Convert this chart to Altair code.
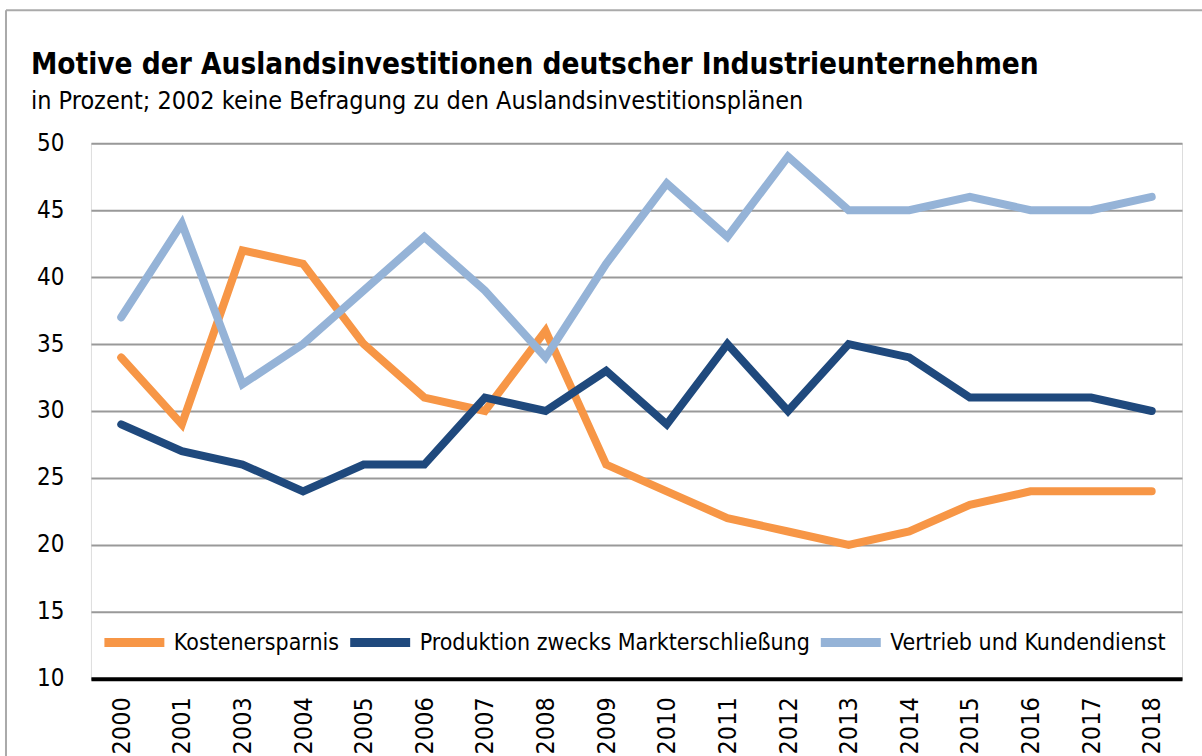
import altair as alt
import pandas as pd

years = ["2000", "2001", "2003", "2004", "2005", "2006", "2007", "2008", "2009",
         "2010", "2011", "2012", "2013", "2014", "2015", "2016", "2017", "2018"]
series_names = ["Kostenersparnis", "Produktion zwecks Markterschließung", "Vertrieb und Kundendienst"]
kosten = [34, 29, 42, 41, 35, 31, 30, 36, 26, 24, 22, 21, 20, 21, 23, 24, 24, 24]
produktion = [29, 27, 26, 24, 26, 26, 31, 30, 33, 29, 35, 30, 35, 34, 31, 31, 31, 30]
vertrieb = [37, 44, 32, 35, 39, 43, 39, 34, 41, 47, 43, 49, 45, 45, 46, 45, 45, 46]
colors = ["#F79646", "#1F497D", "#95B3D7"]
y_ticks = [10, 15, 20, 25, 30, 35, 40, 45, 50]

rows = []
for name, vals in zip(series_names, [kosten, produktion, vertrieb]):
    for y, v in zip(years, vals):
        rows.append({"Jahr": y, "Wert": v, "Serie": name})
df = pd.DataFrame(rows)

FONT = "DejaVu Sans Condensed, Liberation Sans, sans-serif"
W, H = 1092, 536

one = pd.DataFrame({"a": [0]})
frame_top = alt.Chart(one).mark_rule(stroke="#AAAAAA", strokeWidth=2, clip=False).encode(
    x=alt.value(-85), x2=alt.value(1300), y=alt.value(-133)
)
frame_left = alt.Chart(one).mark_rule(stroke="#AAAAAA", strokeWidth=2, clip=False).encode(
    x=alt.value(-85), y=alt.value(-133), y2=alt.value(900)
)

lines = alt.Chart(df).mark_line(
    strokeWidth=8, strokeCap="round", strokeJoin="miter"
).encode(
    x=alt.X("Jahr:N", sort=years, title=None,
            scale=alt.Scale(paddingInner=0, paddingOuter=0.5),
            axis=alt.Axis(labelAngle=270, labelAlign="right", labelBaseline="middle",
                          labelPadding=18, ticks=False, domain=True, domainColor="#000000",
                          domainWidth=4, labelFont=FONT, labelFontSize=25,
                          labelColor="#000000", grid=False)),
    y=alt.Y("Wert:Q", title=None,
            scale=alt.Scale(domain=[10, 50], nice=False, zero=False),
            axis=alt.Axis(values=y_ticks, ticks=False, domain=False, grid=True,
                          gridColor="#999999", gridWidth=2, labelPadding=27,
                          labelFont=FONT, labelFontSize=24, labelColor="#000000")),
    color=alt.Color("Serie:N", sort=series_names, title=None,
                    scale=alt.Scale(domain=series_names, range=colors),
                    legend=alt.Legend(orient="none", legendX=9, legendY=465,
                                      direction="horizontal", symbolType="stroke",
                                      symbolSize=3600, symbolStrokeWidth=9,
                                      labelFont=FONT, labelFontSize=23,
                                      labelColor="#000000", labelOffset=5,
                                      columnPadding=-8, labelLimit=600)),
    order=alt.Order("Serie:N"),
)

chart = alt.layer(frame_top, frame_left, lines).properties(
    width=W, height=H,
    title=alt.TitleParams(
        text="Motive der Auslandsinvestitionen deutscher Industrieunternehmen",
        subtitle="in Prozent; 2002 keine Befragung zu den Auslandsinvestitionsplänen",
        anchor="start", frame="group", dx=-60, offset=-106,
        font=FONT, fontSize=29.5, fontWeight="bold", color="#000000",
        subtitleFont=FONT, subtitleFontSize=25, subtitleColor="#000000",
        subtitlePadding=9,
    ),
    autosize=alt.AutoSizeParams(type="none"),
    padding={"left": 91, "top": 143, "right": 20, "bottom": 150},
).configure_view(stroke=None).configure(background="#FFFFFF")

chart.save("out.html", embed_options={"renderer": "svg", "actions": False})
